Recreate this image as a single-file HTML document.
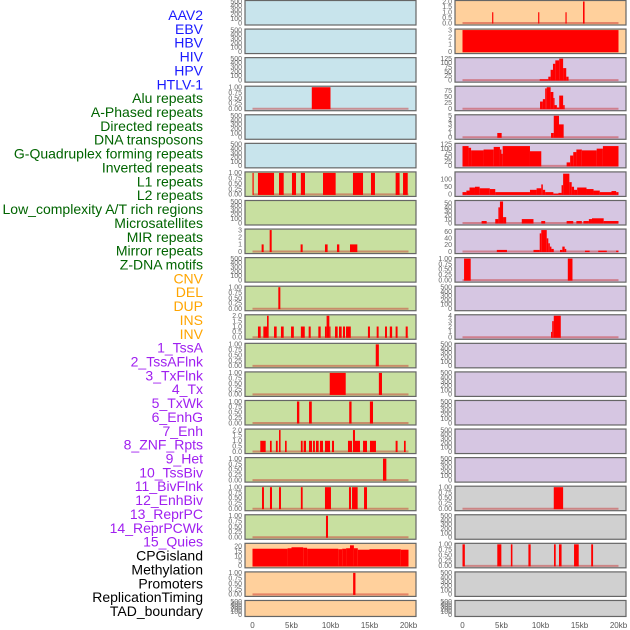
<!DOCTYPE html>
<html><head><meta charset="utf-8"><style>
html,body{margin:0;padding:0;background:#fff;}
svg{display:block;font-family:"Liberation Sans",sans-serif;}
</style></head><body>
<svg id="chart" width="630" height="630" viewBox="0 0 630 630"></svg>
<script>
// ---- data ----
const labelNames = ["AAV2","EBV","HBV","HIV","HPV","HTLV-1","Alu repeats","A-Phased repeats","Directed repeats","DNA transposons","G-Quadruplex forming repeats","Inverted repeats","L1 repeats","L2 repeats","Low_complexity A/T rich regions","Microsatellites","MIR repeats","Mirror repeats","Z-DNA motifs","CNV","DEL","DUP","INS","INV","1_TssA","2_TssAFlnk","3_TxFlnk","4_Tx","5_TxWk","6_EnhG","7_Enh","8_ZNF_Rpts","9_Het","10_TssBiv","11_BivFlnk","12_EnhBiv","13_ReprPC","14_ReprPCWk","15_Quies","CPGisland","Methylation","Promoters","ReplicationTiming","TAD_boundary"];
const labelColors = ["#1a1aff","#1a1aff","#1a1aff","#1a1aff","#1a1aff","#1a1aff","#006400","#006400","#006400","#006400","#006400","#006400","#006400","#006400","#006400","#006400","#006400","#006400","#006400","#ffa500","#ffa500","#ffa500","#ffa500","#ffa500","#a020f0","#a020f0","#a020f0","#a020f0","#a020f0","#a020f0","#a020f0","#a020f0","#a020f0","#a020f0","#a020f0","#a020f0","#a020f0","#a020f0","#a020f0","#000","#000","#000","#000","#000"];
const xTicks = [0,5,10,15,20];
const xTickLabels = ["0","5kb","10kb","15kb","20kb"];
const T1 = [0,0.25,0.5,0.75,1];
const T2 = [0,0.5,1,1.5,2];
const T3 = [0,1,2,3];
const T4 = [0,1,2,3,4];
const T5 = [0,1,2,3,4,5];
const TE = [0,100,200,300,400,500];
const leftBg = ["b","b","b","b","b","b","g","g","g","g","g","g","g","g","g","g","g","g","g","o","o","o"];
const rightBg = ["o","o","p","p","p","p","p","p","p","p","p","p","p","p","p","p","p","g2","g2","g2","g2","g2"];
const leftMax = [500,500,500,1,500,500,1,500,3,500,1,2,1,1,1,2,1,1,1,22,1,500];
const leftTicks = [TE,TE,TE,T1,TE,TE,T1,TE,T3,TE,T1,T2,T1,T1,T1,T2,T1,T1,T1,[0,5,10,15,20],T1,TE];
const leftSegs = [
 [],[],[],
 [[7.6,10.0,1]],
 [],[],
 [[0,0.15,1],[0.7,2.76,1],[3.4,4.0,1],[5.06,5.58,1],[6.2,6.73,1],[9.04,10.66,1],[12.88,14.17,1],[15.19,15.7,1],[18.35,18.86,1],[19.3,19.9,1]],
 [],
 [[1.17,1.43,1],[2.2,2.46,3],[6.17,6.43,1],[9.29,9.63,1],[10.83,11.13,1],[12.5,13.44,1]],
 [],
 [[3.31,3.57,1]],
 [[0.7,1.05,1],[1.39,1.86,1],[1.86,2.07,2],[2.76,3.1,1],[3.65,4.0,1],[4.94,5.3,1],[6.2,6.7,1],[7.2,7.46,1],[8.44,8.74,1],[9.29,9.5,1],[9.5,9.85,2],[9.85,10.0,1],[10.58,10.92,1],[11.09,11.43,1],[11.6,11.86,1],[11.99,12.6,1],[14.8,15.06,1],[15.92,16.17,1],[16.99,17.24,1],[17.6,17.9,1],[18.35,18.6,1],[19.64,19.9,1]],
 [[15.8,16.2,1]],
 [[9.9,11.95,1],[16.2,16.6,1]],
 [[5.7,6.0,1],[7.25,7.6,1],[12.4,12.7,1],[15.05,15.45,1]],
 [[1.0,1.69,1],[2.24,2.46,1],[3.0,3.23,1],[3.4,3.6,2],[4.17,4.38,1],[6.2,6.43,1],[6.56,6.86,1],[7.24,7.63,1],[7.76,8.0,1],[8.14,8.48,1],[8.65,9.04,1],[9.29,9.94,1],[10.19,10.45,1],[12.24,12.76,1],[12.88,13.14,2],[13.14,13.78,1],[14.17,14.68,1],[15.06,15.83,1],[18.35,18.6,1],[19.42,19.64,1]],
 [[16.73,17.16,1]],
 [[1.22,1.47,1],[2.24,2.5,1],[3.4,3.65,1],[6.2,6.43,1],[9.29,10.06,1],[12.37,12.63,1],[12.76,13.48,1],[14.3,14.68,1]],
 [[9.42,9.68,1]],
 [[0,4.5,17.5],[4.5,5,18],[5,6.5,19],[6.5,7,18.5],[7,11,17.5],[11,11.5,17],[11.5,12,17.5],[12,12.5,18],[12.5,13,21],[13,13.5,18],[13.5,15,16.5],[15,19,17],[19,20,16.5]],
 [[12.9,13.2,1]],
 []
];
const rightMax = [2,3,125,90,5,125,140,55,65,1,500,4,500,500,500,500,500,1,500,1,500,500];
const rightTicks = [T2,T3,[0,25,50,75,100,125],[0,25,50,75],T5,[0,25,50,75,100,125],[0,50,100],[0,10,20,30,40,50],[0,20,40,60],T1,TE,T4,TE,TE,TE,TE,TE,T1,TE,T1,TE,TE];
const rightSegs = [
 [[3.8,3.95,1],[9.7,9.85,1],[13.2,13.35,1],[15.45,15.65,2]],
 [[0,20,3]],
 [[9.9,11,5],[11,11.3,20],[11.3,11.6,60],[11.6,11.9,95],[11.9,12.4,115],[12.4,12.9,125],[12.9,13.3,70],[13.3,13.6,20]],
 [[9.94,10.3,30],[10.3,10.6,40],[10.6,10.8,85],[10.8,11.3,90],[11.3,11.65,70],[11.65,11.8,45],[11.8,12.1,15],[12.1,12.4,5],[12.4,12.9,55],[12.9,13.1,15]],
 [[4.46,5.02,1],[11.35,11.7,1],[11.7,12.37,5],[12.37,12.97,3]],
 [[0,0.78,115],[0.78,1.1,105],[1.1,2.7,90],[2.7,4.0,95],[4.0,4.8,110],[4.8,5.0,95],[5.0,5.15,70],[5.15,8.65,115],[8.65,10.1,85],[13.35,13.8,20],[13.8,14.2,60],[14.2,14.6,80],[14.6,15.3,95],[15.3,17.2,90],[17.2,18.0,100],[18.0,20,115]],
 [[0,0.5,15],[0.5,0.9,25],[0.9,1.6,45],[1.6,2.2,50],[2.2,3.5,40],[3.5,4.2,35],[4.2,8.65,15],[8.65,9.5,30],[9.5,10.1,40],[10.1,10.3,65],[10.3,10.6,30],[10.6,11.65,15],[11.65,12.3,5],[12.3,12.7,10],[12.7,12.9,60],[12.9,13.7,135],[13.7,14.0,80],[14.0,14.3,50],[14.3,14.7,30],[14.7,15.9,45],[15.9,16.8,35],[16.8,17.6,25],[17.6,19.1,15],[19.1,19.7,22],[19.7,20,15]],
 [[2.45,3.1,5],[4.2,4.6,10],[4.6,4.8,40],[4.8,5.2,55],[5.2,5.6,15],[7.6,9.1,10],[10.1,10.6,5],[13.35,14.2,5],[14.6,15.3,5],[15.5,16.2,5],[16.2,16.6,10],[16.6,18.1,12],[18.1,20,5]],
 [[4.4,5.7,5],[9.1,9.9,5],[9.9,10.1,55],[10.1,10.8,65],[10.8,11.0,40],[11.0,11.2,25],[11.2,11.4,15],[11.4,11.7,8],[12.5,12.8,5],[12.8,13.1,15],[13.1,13.3,8],[15.7,16.3,3],[17.4,18.5,3],[19.7,20,3]],
 [[0.2,1.05,1],[13.5,14.1,1]],
 [],
 [[11.35,11.5,1],[11.5,11.7,3],[11.7,12.6,4]],
 [],[],[],[],[],
 [[11.7,12.9,1]],
 [],
 [[0,0.3,1],[4.46,4.98,1],[6.2,6.4,1],[8.45,8.74,1],[11.73,11.95,1],[12.37,12.7,1],[14.3,14.9,1],[16.5,16.74,1]],
 [],[]
];
// ---- rendering ----
const NS = "http://www.w3.org/2000/svg";
const svg = document.getElementById("chart");
const bgColors = {b:"#c8e4ec",g:"#c8e0a0",o:"#ffd09c",p:"#d6c6e2",g2:"#d0d0d0"};
function mk(tag, attrs, parent){const e=document.createElementNS(NS,tag);for(const k in attrs)e.setAttribute(k,attrs[k]);(parent||svg).appendChild(e);return e;}
function fmt(v,ticks){const mx=ticks[ticks.length-1];if(mx===1)return v.toFixed(2);if(mx===2&&ticks.length===5)return v.toFixed(1);return String(v);}
// labels
labelNames.forEach((n,i)=>{
  const t=mk("text",{x:203,y:15+i*13.86+5,"text-anchor":"end","font-size":"14",fill:labelColors[i]});
  t.textContent=n;
  
  
});
function panel(col,i,bg,ymax,ticks,segs){
  const x0 = col===0?245:455, x1 = col===0?416:626;
  const dx0 = col===0?252.5:462.5;
  const top = 0.5+i*28.57, h = i===21?16:24.5;
  const xs = kb=>dx0+kb*7.8;
  const ys = v=>top+h-2-(v/ymax)*(h-3);
  const g=mk("g",{});
  
  
  mk("rect",{x:x0,y:top,width:x1-x0,height:h,fill:bgColors[bg],stroke:"#666","stroke-width":1.2},g);
  ticks.forEach(tv=>{
    const t=mk("text",{x:x0-3,y:ys(tv)+2.3,"text-anchor":"end","font-size":"7",fill:"#666"},g);
    t.textContent=fmt(tv,ticks);
  });
  if(segs.length){
    mk("line",{x1:xs(0),x2:xs(20),y1:ys(0),y2:ys(0),stroke:"rgba(200,40,40,0.45)","stroke-width":2},g);
  }
  segs.forEach(s=>{
    const r=mk("rect",{x:xs(s[0]),y:ys(s[2]),width:Math.max(1,xs(s[1])-xs(s[0])),height:ys(0)-ys(s[2])+0.5,fill:"#ff0000"},g);
    
    
  });
}
for(let i=0;i<22;i++){
  panel(0,i,leftBg[i],leftMax[i],leftTicks[i],leftSegs[i]);
  panel(1,i,rightBg[i],rightMax[i],rightTicks[i],rightSegs[i]);
}
[252.5,462.5].forEach(dx0=>{
  xTicks.forEach((kb,j)=>{
    const t=mk("text",{x:dx0+kb*7.8,y:628,"text-anchor":"middle","font-size":"8",fill:"#555"});
    t.textContent=xTickLabels[j];
    
    
  });
});
</script>
</body></html>
